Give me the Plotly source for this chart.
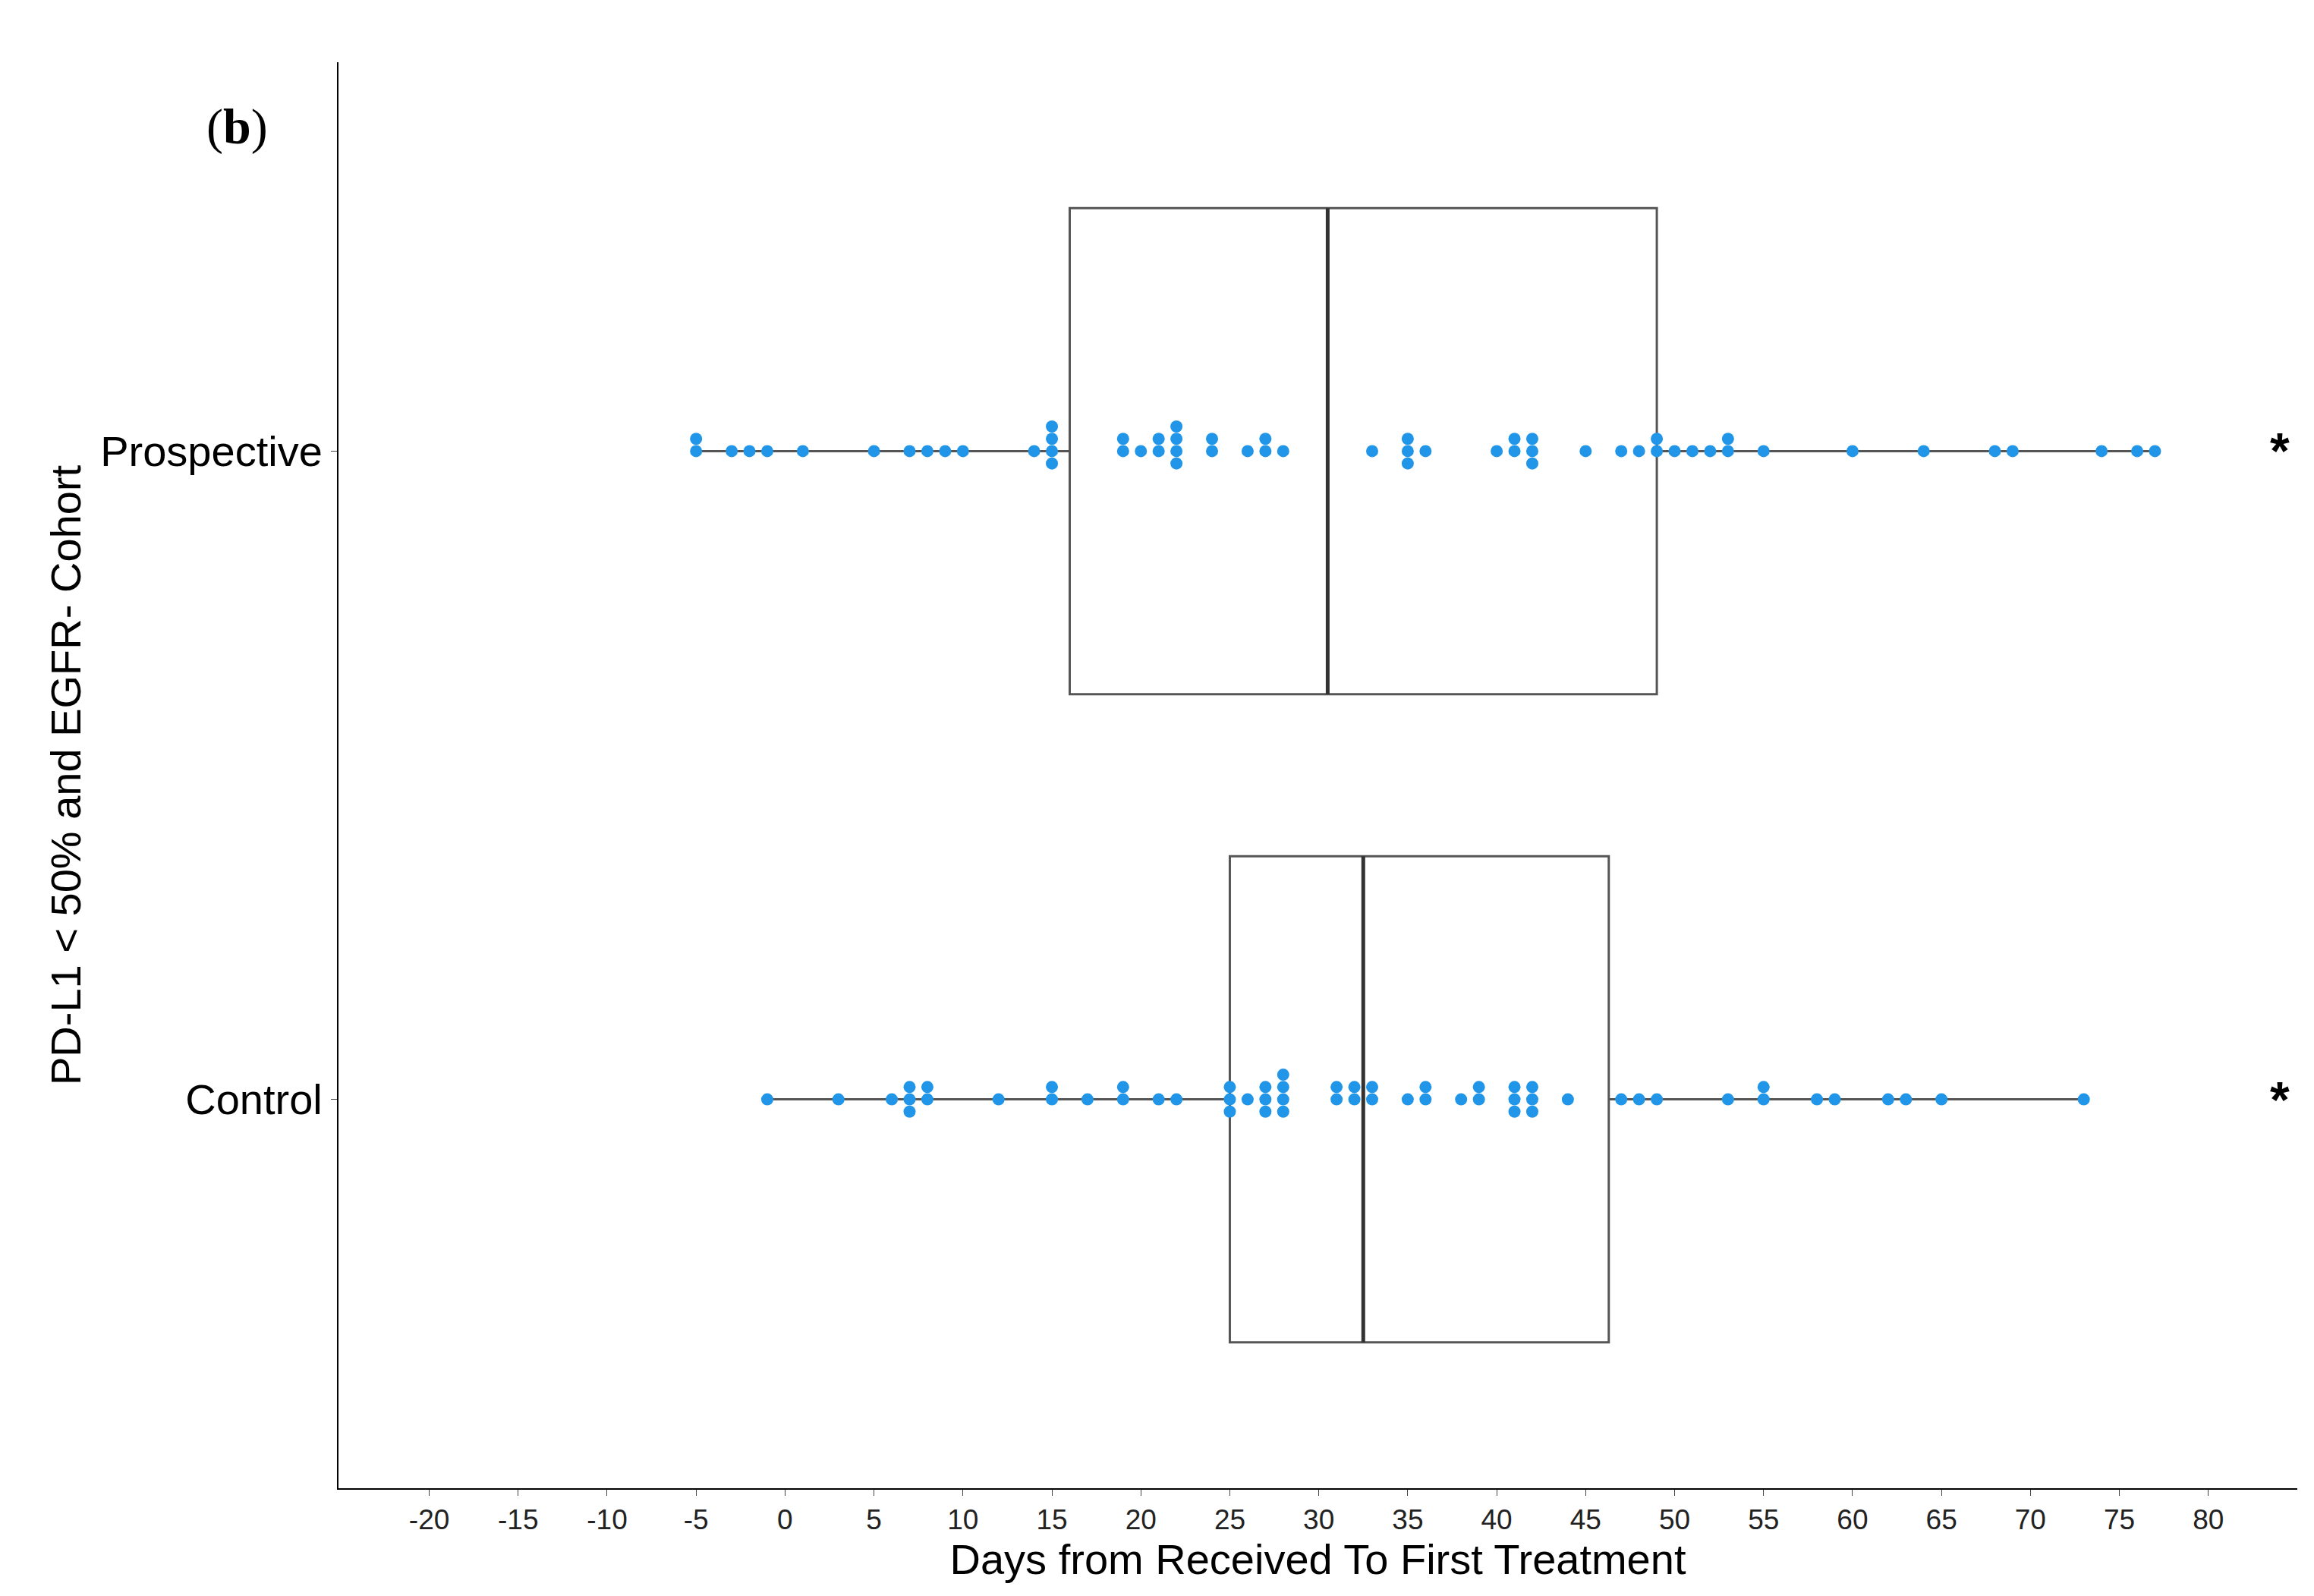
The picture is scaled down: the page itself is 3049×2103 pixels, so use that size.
import plotly.graph_objects as go
from collections import Counter

# data
groups = ["Control", "Prospective"]
prospective = [-5, -5, -3, -2, -1, 1, 5, 7, 8, 9, 10, 14, 15, 15, 15, 15, 19, 19, 20, 21, 21,
               22, 22, 22, 22, 24, 24, 26, 27, 27, 28, 33, 35, 35, 35, 36, 40, 41, 41, 42, 42,
               42, 45, 47, 48, 49, 49, 50, 51, 52, 53, 53, 55, 60, 64, 68, 69, 74, 76, 77]
control = [-1, 3, 6, 7, 7, 7, 8, 8, 12, 15, 15, 17, 19, 19, 21, 22, 25, 25, 25, 26, 27, 27,
           27, 28, 28, 28, 28, 31, 31, 32, 32, 33, 33, 35, 36, 36, 38, 39, 39, 41, 41, 41,
           42, 42, 42, 44, 47, 48, 49, 53, 55, 55, 58, 59, 62, 63, 65, 73]
q1 = [25, 16]
medians = [32.5, 30.5]
q3 = [46.3, 49]
lower = [-1, -5]
upper = [73, 77]
xticks = list(range(-20, 81, 5))

fig = go.Figure()

# boxes
fig.add_trace(go.Box(
    y=[0, 1], q1=q1, median=medians, q3=q3, lowerfence=lower, upperfence=upper,
    orientation="h", width=0.75, whiskerwidth=0, fillcolor="rgba(0,0,0,0)",
    line=dict(color="#555555", width=3), boxpoints=False, showlegend=False,
    hoverinfo="skip"))

# thicker median lines
for centre, m in zip([0, 1], medians):
    fig.add_trace(go.Scatter(x=[m, m], y=[centre - 0.375, centre + 0.375], mode="lines",
                             line=dict(color="#333333", width=5), showlegend=False,
                             hoverinfo="skip"))


def swarm(values, centre, step=0.019):
    # simple dot stacking: repeated values alternate above and below the line
    seen = Counter()
    xs, ys = [], []
    order = [0, 1, -1, 2, -2, 3, -3]
    for v in values:
        k = seen[v]
        seen[v] += 1
        xs.append(v)
        ys.append(centre + order[k % len(order)] * step)
    return xs, ys


for centre, vals in [(1, prospective), (0, control)]:
    xs, ys = swarm(vals, centre)
    fig.add_trace(go.Scatter(x=xs, y=ys, mode="markers",
                             marker=dict(color="#2196E8", size=16),
                             showlegend=False))

for centre in [0, 1]:
    fig.add_annotation(x=84, y=centre, text="<b>*</b>", showarrow=False,
                       font=dict(size=66, color="black"), xanchor="center", yanchor="middle")

fig.add_annotation(x=-0.068, y=0.955, xref="paper", yref="paper", text="(<b>b</b>)",
                   showarrow=False, font=dict(size=66, family="Liberation Serif", color="black"),
                   xanchor="left", yanchor="middle")

fig.update_layout(
    width=3049, height=2103, plot_bgcolor="white", paper_bgcolor="white",
    margin=dict(l=438, r=30, t=74, b=150),
    font=dict(family="Liberation Sans", color="black"),
    xaxis=dict(range=[-25.1, 85], tickvals=xticks, ticktext=[str(t) for t in xticks],
               ticks="outside", ticklen=8,
               showgrid=False, zeroline=False, showline=True, linecolor="black", linewidth=2,
               tickfont=dict(size=37, color="#222222"),
               title=dict(text="Days from Received To First Treatment", font=dict(size=56),
                          standoff=6)),
    yaxis=dict(range=[-0.6, 1.6], tickvals=[0, 1], ticktext=groups, ticks="outside",
               ticklen=8, showgrid=False, zeroline=False, showline=True, linecolor="black",
               linewidth=2, tickfont=dict(size=56),
               title=dict(text="PD-L1 < 50% and EGFR- Cohort", font=dict(size=56),
                          standoff=8)),
)

fig.write_html("out.html")
